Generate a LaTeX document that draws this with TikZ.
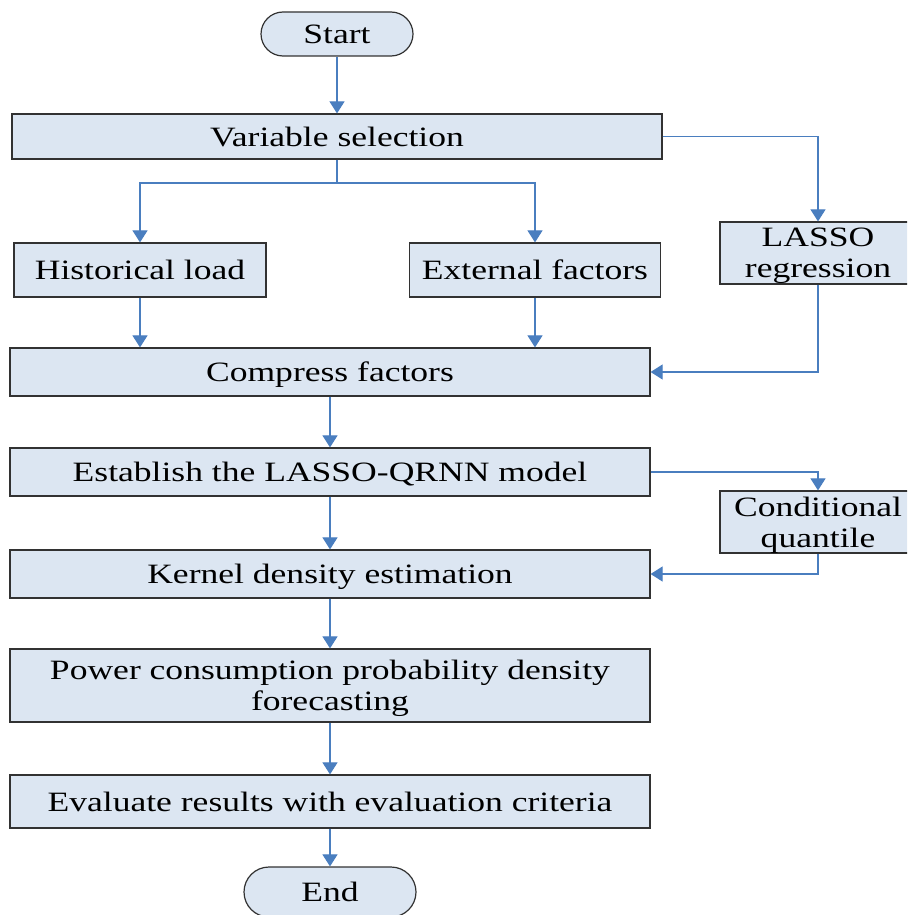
\documentclass[tikz,border=0pt]{standalone}
\usepackage{fontspec}
\setmainfont{Liberation Serif}[FakeStretch=1.27]
\usetikzlibrary{arrows.meta}
\definecolor{boxfill}{RGB}{220,230,242}
\definecolor{boxline}{RGB}{50,50,50}
\definecolor{arrblue}{RGB}{74,126,191}
\tikzset{
  box/.style={draw=boxline, line width=1.2pt, fill=boxfill, rectangle, inner sep=0pt,
    align=center, text depth=0pt, font=\fontsize{28}{31}\selectfont},
  term/.style={box, rounded corners=22pt},
  conn/.style={draw=arrblue, line width=1.1pt},
  arr/.style={conn, -{Triangle[width=15pt,length=12pt]}}
}
\begin{document}
\begin{tikzpicture}[x=1pt,y=-1pt]
\useasboundingbox (0,0) rectangle (907,915);
\begin{scope}
\clip (0,0) rectangle (907,915);
\node[term, minimum width=152pt, minimum height=44pt] (start) at (337,34) {Start};
\node[box, minimum width=650pt, minimum height=45pt] (var) at (337,136.5) {Variable selection};
\node[box, minimum width=252pt, minimum height=54pt] (hist) at (140,270) {Historical load};
\node[box, minimum width=251pt, minimum height=54pt] (ext) at (535,270) {External factors};
\node[box, minimum width=196pt, minimum height=62pt] (lasso) at (818,253) {LASSO\\regression};
\node[box, minimum width=640pt, minimum height=48pt] (comp) at (330,372) {Compress factors};
\node[box, minimum width=640pt, minimum height=48pt] (est) at (330,472) {Establish the LASSO-QRNN model};
\node[box, minimum width=196pt, minimum height=62pt] (cq) at (818,522) {Conditional\\quantile};
\node[box, minimum width=640pt, minimum height=48pt] (ker) at (330,574) {Kernel density estimation};
\node[box, minimum width=640pt, minimum height=73pt] (pow) at (330,685.5) {Power consumption probability density\\forecasting};
\node[box, minimum width=640pt, minimum height=53pt] (eval) at (330,801.5) {Evaluate results with evaluation criteria};
\node[term, rounded corners=25pt, minimum width=172pt, minimum height=50pt] (end) at (330,892) {End};

\coordinate (br) at (337,183);
\draw[arr] (start.south) -- (var.north);
\draw[conn] (var.south) -- (br);
\draw[arr] (br) -| (hist.north);
\draw[arr] (br) -| (ext.north);
\draw[arr] (var.east) -| (lasso.north);
\draw[arr] (hist.south) -- (hist.south |- comp.north);
\draw[arr] (ext.south) -- (ext.south |- comp.north);
\draw[arr] (lasso.south) |- (comp.east);
\draw[arr] (comp.south) -- (est.north);
\draw[arr] (est.east) -| (cq.north);
\draw[arr] (cq.south) |- (ker.east);
\draw[arr] (est.south) -- (ker.north);
\draw[arr] (ker.south) -- (pow.north);
\draw[arr] (pow.south) -- (eval.north);
\draw[arr] (eval.south) -- (end.north);
\end{scope}
\end{tikzpicture}
\end{document}
